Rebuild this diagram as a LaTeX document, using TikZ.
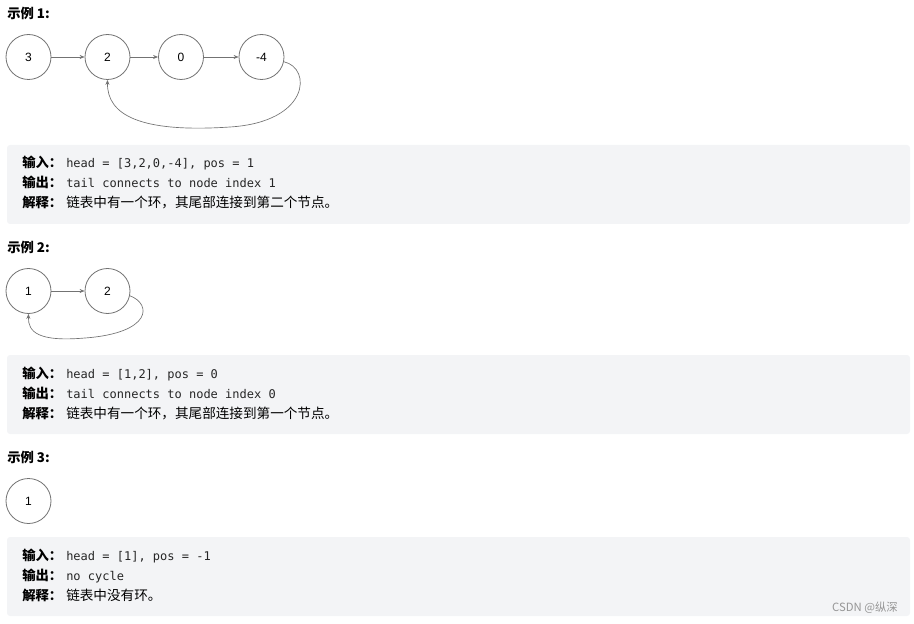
\documentclass[tikz,border=0pt]{standalone}
\usepackage{fontspec}
\usepackage{tikz}
\usetikzlibrary{arrows.meta}
\newfontfamily\cjk{Noto Sans CJK SC}
\newfontfamily\codefont{DejaVu Sans Mono}
\newfontfamily\numfont{Liberation Sans}
\definecolor{cardgray}{RGB}{243,244,246}
\definecolor{ringgray}{RGB}{115,115,115}
\definecolor{codeink}{RGB}{38,38,38}
\definecolor{markgray}{RGB}{150,150,150}

\begin{document}
\begin{tikzpicture}[x=0.75pt,y=0.75pt,yscale=-1,xscale=1,
    listnode/.style={draw=ringgray,line width=0.6pt,circle,minimum size=33.75pt,inner sep=0pt,font=\numfont\fontsize{9}{11}\selectfont},
    link/.style={draw=ringgray,line width=0.5pt,-{Stealth[length=3.75pt,width=3pt]}},
    cardbox/.style={fill=cardgray,draw=none,rounded corners=2.25pt},
    heading/.style={anchor=west,inner sep=0pt,font=\cjk\bfseries\fontsize{10}{12}\selectfont},
    lbl/.style={anchor=base west,inner sep=0pt,font=\cjk\bfseries\fontsize{10}{12}\selectfont},
    codetxt/.style={anchor=base west,inner sep=0pt,text=codeink,font=\codefont\fontsize{9}{11}\selectfont},
    cntxt/.style={anchor=base west,inner sep=0pt,font=\cjk\fontsize{10.2}{12}\selectfont}]
    \useasboundingbox (0,0) rectangle (914,624);

    % Example 1
    \node [heading] (h1) at (7,13) {示例 1:};
    \node [listnode] (a3) at (28.5,57) {3};
    \node [listnode] (a2) at (107.5,57) {2};
    \node [listnode] (a0) at (181,57) {0};
    \node [listnode] (a4) at (261.5,57) {-4};
    \draw [link] (a3) -- (a2);
    \draw [link] (a2) -- (a0);
    \draw [link] (a0) -- (a4);
    % tail back to index 1
    \draw [link] (a4.-12) .. controls (312,68) and (310,122) .. (230,127) .. controls (140,133) and (107,115) .. (a2.south);

    \draw [cardbox] (7,145) rectangle (910,224);
    \node [lbl] (in1) at (22,168) {输入：};
    \node [codetxt] (in1v) at (66,168) {head = [3,2,0,-4], pos = 1};
    \node [lbl] (out1) at (22,188) {输出：};
    \node [codetxt] (out1v) at (66,188) {tail connects to node index 1};
    \node [lbl] (ex1) at (22,208) {解释：};
    \node [cntxt] (ex1v) at (66,208) {链表中有一个环，其尾部连接到第二个节点。};

    % Example 2
    \node [heading] (h2) at (7,247) {示例 2:};
    \node [listnode] (b1) at (28.5,291) {1};
    \node [listnode] (b2) at (107.5,291) {2};
    \draw [link] (b1) -- (b2);
    % tail back to index 0
    \draw [link] (b2.-12) .. controls (152,304) and (152,333) .. (85,338) .. controls (38,342) and (28,332) .. (b1.south);

    \draw [cardbox] (7,355) rectangle (910,434);
    \node [lbl] (in2) at (22,378) {输入：};
    \node [codetxt] (in2v) at (66,378) {head = [1,2], pos = 0};
    \node [lbl] (out2) at (22,398) {输出：};
    \node [codetxt] (out2v) at (66,398) {tail connects to node index 0};
    \node [lbl] (ex2) at (22,418) {解释：};
    \node [cntxt] (ex2v) at (66,418) {链表中有一个环，其尾部连接到第一个节点。};

    % Example 3
    \node [heading] (h3) at (7,457) {示例 3:};
    \node [listnode] (c1) at (28.5,501) {1};

    \draw [cardbox] (7,537) rectangle (910,616);
    \node [lbl] (in3) at (22,560) {输入：};
    \node [codetxt] (in3v) at (66,560) {head = [1], pos = -1};
    \node [lbl] (out3) at (22,580) {输出：};
    \node [codetxt] (out3v) at (66,580) {no cycle};
    \node [lbl] (ex3) at (22,600) {解释：};
    \node [cntxt] (ex3v) at (66,600) {链表中没有环。};

    % Watermark
    \node [anchor=east,inner sep=0pt,text=markgray,font=\cjk\fontsize{8.5}{10}\selectfont] (mark) at (898,608) {CSDN @纵深};
\end{tikzpicture}
\end{document}
